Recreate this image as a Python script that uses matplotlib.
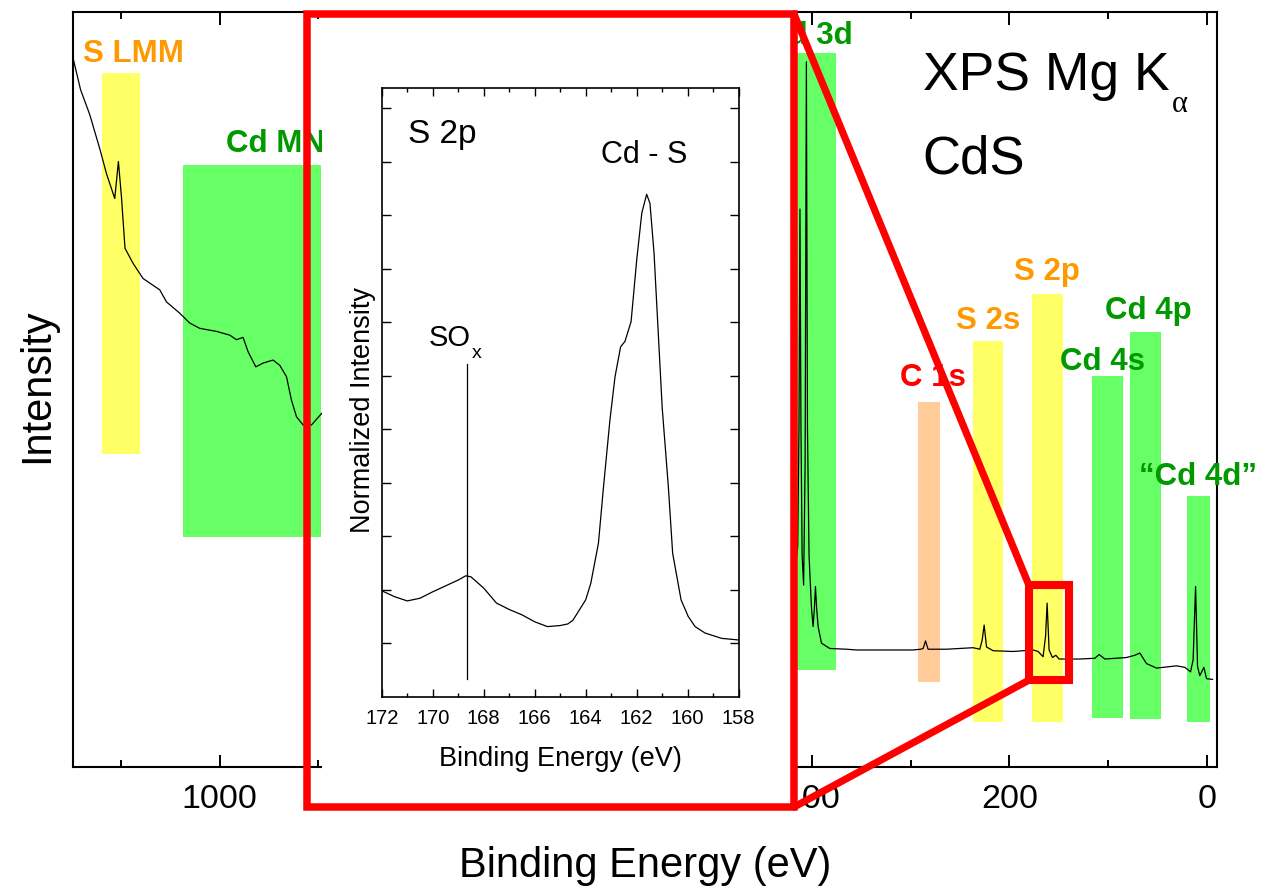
import matplotlib
matplotlib.use("Agg")
import matplotlib.pyplot as plt
from matplotlib.patches import Rectangle, ConnectionPatch
from matplotlib.ticker import MultipleLocator

plt.rcParams['font.family'] = ['Liberation Sans', 'DejaVu Sans']

# ---------------- data: survey spectrum ----------------
survey_ev = [1149, 1141, 1131.7, 1121.6, 1114.8, 1106.4, 1102.7, 1099.6, 1096, 1087.8,
             1077.7, 1067.6, 1060.8, 1054, 1040.5, 1030.4, 1020.3, 1003.4, 989.9, 983.1,
             976.4, 971.3, 963.5, 956.1, 946, 939.2, 932.4, 927.4, 922.3, 915.6,
             907.1, 897, 890, 860, 800, 700, 600, 500, 450, 425,
             418, 414.5, 413.2, 412.2, 411.2, 410, 408.5, 407, 405.7, 404.6,
             403, 400.5, 398.9, 397.6, 396.5, 395.3, 393.8, 390.4, 382, 365,
             354.9, 340, 320, 297.6, 290, 287.4, 285, 282.4, 263.7, 236.8,
             230, 227.6, 225.6, 223.2, 216.5, 196.2, 176, 170.9, 165.9, 163.4,
             161.8, 159.8, 156.4, 153, 149.6, 128.7, 113.5, 109.1, 103.3, 81.4,
             72.9, 67.9, 61.1, 51, 30.7, 22.3, 16.5, 13.9, 11.4, 9.4,
             7.1, 3, 0.3, -5.8]
survey_int = [94.1, 89.7, 86.4, 81.9, 78.6, 75.3, 80.2, 75.5, 68.7, 66.7,
              64.7, 63.8, 63.2, 61.6, 60.1, 58.8, 58.1, 57.7, 57.2, 56.6,
              56.9, 55.0, 53.0, 53.5, 53.9, 53.2, 51.7, 48.6, 46.4, 45.3,
              45.3, 46.8, 47.5, 43, 38, 31, 27, 24, 22, 22,
              25, 29.2, 45, 73.9, 45, 28, 24.1, 40, 93.4, 45,
              28, 21, 18.6, 21, 23.9, 21, 18.6, 16.4, 15.7, 15.6,
              15.5, 15.5, 15.5, 15.5, 15.6, 15.7, 16.7, 15.6, 15.6, 15.8,
              15.6, 16.8, 18.8, 15.9, 15.4, 15.3, 15.5, 15.3, 14.6, 17.3,
              21.7, 15.5, 14.5, 14.8, 14.3, 14.3, 14.4, 14.9, 14.3, 14.5,
              14.8, 15.1, 13.7, 13.1, 13.4, 13.2, 12.6, 14.2, 23.9, 13.3,
              12.1, 13.2, 11.7, 11.6]

# ---------------- data: S 2p detail ----------------
detail_ev = [172.0, 171.5, 171.0, 170.5, 170.0, 169.5, 169.0, 168.7, 168.5, 168.0,
             167.5, 167.0, 166.5, 166.0, 165.5, 165.0, 164.7, 164.5, 164.0, 163.8,
             163.5, 163.3, 163.05, 162.85, 162.63, 162.46, 162.22, 162.0, 161.8, 161.61,
             161.48, 161.32, 161.0, 160.76, 160.59, 160.26, 159.98, 159.71, 159.32, 158.67,
             158.0]
detail_int = [1.98, 1.87, 1.79, 1.84, 1.96, 2.07, 2.18, 2.26, 2.24, 2.03,
              1.75, 1.63, 1.53, 1.40, 1.31, 1.33, 1.36, 1.43, 1.81, 2.12,
              2.87, 3.93, 5.17, 5.98, 6.54, 6.64, 7.01, 8.16, 9.04, 9.39,
              9.22, 8.29, 5.40, 3.93, 2.68, 1.81, 1.50, 1.31, 1.19, 1.09,
              1.06]
sox_ev = 168.67
sox_range = (0.33, 6.22)

# ---------------- data: region bands ----------------
band_names = ["S LMM", "Cd MNN", "Cd 3d", "C 1s", "S 2s", "S 2p", "Cd 4s", "Cd 4p", "\u201cCd 4d\u201d"]
band_hi_ev = [1119.6, 1037.5, 425.0, 292.8, 237.0, 177.3, 116.5, 78.0, 20.3]
band_lo_ev = [1081.0, 897.6, 376.0, 270.5, 206.0, 145.9, 85.1, 46.6, -3.0]
band_bottom = [41.5, 30.5, 12.8, 11.3, 6.0, 6.0, 6.5, 6.3, 6.0]
band_top = [91.9, 79.8, 94.6, 48.3, 56.4, 62.6, 51.8, 57.6, 35.9]
band_colors = ["#FFFF66", "#66FF66", "#66FF66", "#FFCC99", "#FFFF66", "#FFFF66",
               "#66FF66", "#66FF66", "#66FF66"]
label_colors = ["#FF9900", "#009900", "#009900", "#FF0000", "#FF9900", "#FF9900",
                "#009900", "#009900", "#009900"]
label_x = [1087.8, 993.9, 358.4, 277.6, 221.2, 161.9, 106.2, 59.1, 8.8]
label_ha = ["center", "left", "right", "center", "center", "center", "center", "center", "center"]
label_y = [93.4, 81.4, 95.7, 50.4, 58.0, 64.5, 52.6, 59.4, 37.4]

zoom_box_ev = (180.3, 139.8)
zoom_box_int = (11.5, 24.1)

W, H = 1268, 893
fig = plt.figure(figsize=(W / 100, H / 100), dpi=100)

def fx(px):
    return px / W

def fy(py):
    return 1 - py / H

ax = fig.add_axes([fx(72.7), fy(767), fx(1216.7) - fx(72.7), fy(12) - fy(767)])
ax.set_xlim(1149, -10)
ax.set_ylim(0, 100)

for hi, lo, b, t, c in zip(band_hi_ev, band_lo_ev, band_bottom, band_top, band_colors):
    ax.add_patch(Rectangle((lo, b), hi - lo, t - b, facecolor=c, edgecolor='none', zorder=1))

ax.plot(survey_ev, survey_int, color='black', lw=0.9, zorder=3)

for name, x, y, ha, c in zip(band_names, label_x, label_y, label_ha, label_colors):
    ax.text(x, y, name, color=c, fontsize=22.5, fontweight='bold', ha=ha, va='baseline', zorder=4)

ax.text(0.743, 0.8967, "XPS Mg K", transform=ax.transAxes, fontsize=38.5, va='baseline', ha='left')
ax.text(0.9607, 0.868, "\u03b1", transform=ax.transAxes, fontsize=22, va='baseline', ha='left',
        family=['Liberation Serif', 'DejaVu Serif'])
ax.text(0.743, 0.7864, "CdS", transform=ax.transAxes, fontsize=38, va='baseline', ha='left')

ax.set_xticks([0, 200, 400, 600, 800, 1000])
ax.xaxis.set_minor_locator(MultipleLocator(100))
ax.set_yticks([])
ax.tick_params(axis='x', which='both', direction='in', top=True, bottom=True, width=1.4,
               labelsize=24.5, pad=12.5)
ax.tick_params(axis='x', which='major', length=9)
ax.tick_params(axis='x', which='minor', length=5)
for s in ax.spines.values():
    s.set_linewidth(1.5)

ax.set_xlabel("Binding Energy (eV)", fontsize=30)
ax.xaxis.label.set_va('baseline')
ax.xaxis.set_label_coords(0.5, -0.1457)
ax.set_ylabel("Intensity", fontsize=30)
ax.yaxis.label.set(rotation_mode='anchor', va='baseline', ha='center')
ax.yaxis.set_label_coords(-0.0216, 0.505)

# zoom box on the survey
ax.add_patch(Rectangle((zoom_box_ev[1], zoom_box_int[0]), zoom_box_ev[0] - zoom_box_ev[1],
                       zoom_box_int[1] - zoom_box_int[0], facecolor='none', edgecolor='red',
                       lw=5.8, zorder=6, joinstyle='miter'))

# white panel and red frame of the inset
fig.add_artist(Rectangle((fx(321.7), fy(807)), fx(794) - fx(321.7), fy(14) - fy(807),
                         transform=fig.transFigure, facecolor='white', edgecolor='none', zorder=1))
fig.add_artist(Rectangle((fx(794), fy(807)), fx(801) - fx(794), fy(775) - fy(807),
                         transform=fig.transFigure, facecolor='white', edgecolor='none', zorder=1))
fig.add_artist(Rectangle((fx(306.7), fy(807)), fx(794) - fx(306.7), fy(14) - fy(807),
                         transform=fig.transFigure, facecolor='none', edgecolor='red', lw=5.4,
                         joinstyle='miter', zorder=3))
for (pa, pb) in [((fx(794), fy(14)), (zoom_box_ev[0], zoom_box_int[1])),
                 ((fx(794), fy(807)), (zoom_box_ev[0], zoom_box_int[0]))]:
    cp = ConnectionPatch(xyA=pa, coordsA='figure fraction', xyB=pb, coordsB='data', axesB=ax,
                         color='red', lw=5.2, zorder=3)
    fig.add_artist(cp)

# inset
ins = fig.add_axes([fx(381.7), fy(696.7), fx(738.7) - fx(381.7), fy(88.3) - fy(696.7)], zorder=2)
ins.plot(detail_ev, detail_int, color='black', lw=0.9)
ins.plot([sox_ev, sox_ev], list(sox_range), color='black', lw=0.9)
ins.set_xlim(172, 158)
ins.set_ylim(0, 11.37)
ins.set_xticks(range(158, 173, 2))
ins.xaxis.set_minor_locator(MultipleLocator(1))
ins.set_yticks(range(1, 12))
ins.tick_params(axis='x', which='both', direction='in', top=True, bottom=True, width=1.0,
                labelsize=14.5, pad=8.5)
ins.tick_params(axis='x', which='major', length=5.8)
ins.tick_params(axis='x', which='minor', length=3)
ins.tick_params(axis='y', which='both', direction='in', left=True, right=True, labelleft=False,
                length=6.5, width=1.0)
for s in ins.spines.values():
    s.set_linewidth(1.2)
ins.set_xlabel("Binding Energy (eV)", fontsize=19.5)
ins.xaxis.label.set_va('baseline')
ins.xaxis.set_label_coords(0.5006, -0.1139)
ins.set_ylabel("Normalized Intensity", fontsize=19.5)
ins.yaxis.label.set(rotation_mode='anchor', va='baseline', ha='center')
ins.yaxis.set_label_coords(-0.0328, 0.471)

ins.text(0.0745, 0.910, "S 2p", transform=ins.transAxes, fontsize=24, va='baseline')
ins.text(0.614, 0.8767, "Cd - S", transform=ins.transAxes, fontsize=22, va='baseline')
ins.text(0.1325, 0.5764, "SO", transform=ins.transAxes, fontsize=21, va='baseline')
ins.text(0.252, 0.556, "x", transform=ins.transAxes, fontsize=14, va='baseline')

fig.savefig("out.png", dpi=100)
